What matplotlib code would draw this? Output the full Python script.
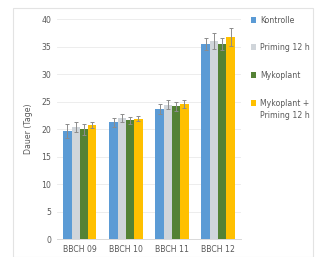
import matplotlib
matplotlib.use("Agg")
import matplotlib.pyplot as plt
import numpy as np
from matplotlib.patches import Rectangle

categories = ["BBCH 09", "BBCH 10", "BBCH 11", "BBCH 12"]
series = ["Kontrolle", "Priming 12 h", "Mykoplant", "Mykoplant +\nPriming 12 h"]
kontrolle = [19.6, 21.2, 23.6, 35.5]
priming = [20.4, 22.0, 24.4, 36.0]
mykoplant = [20.0, 21.6, 24.1, 35.5]
myko_priming = [20.7, 21.9, 24.5, 36.7]
err_kontrolle = [1.3, 0.8, 0.9, 1.1]
err_priming = [0.9, 0.7, 0.8, 1.5]
err_mykoplant = [1.0, 0.6, 0.9, 1.1]
err_myko_priming = [0.5, 0.5, 0.7, 1.6]
y_ticks = [0, 5, 10, 15, 20, 25, 30, 35, 40]

colors = ["#5B9BD5", "#D0D5DA", "#548235", "#FFC000"]
values = [kontrolle, priming, mykoplant, myko_priming]
errors = [err_kontrolle, err_priming, err_mykoplant, err_myko_priming]
txt = "#595959"

fig = plt.figure(figsize=(3.16, 2.57), dpi=100)
fig.patches.append(Rectangle((0.042, 0.0), 0.95, 0.97, transform=fig.transFigure,
                             fill=False, edgecolor="#E3E3E3", linewidth=0.8))
ax = fig.add_axes([0.18, 0.07, 0.583, 0.856])

x = np.arange(len(categories))
w = 0.18
for i, (vals, errs, c, lab) in enumerate(zip(values, errors, colors, series)):
    ax.bar(x + (i - 1.5) * w, vals, width=w, color=c, label=lab, zorder=2,
           yerr=errs, error_kw=dict(ecolor="#8C8C8C", elinewidth=0.7, capsize=1.5, capthick=0.7))

ax.set_xlim(-0.5, 3.5)
ax.set_ylim(0, 40)
ax.set_yticks(y_ticks)
ax.set_xticks(x)
ax.set_xticklabels(categories)
ax.yaxis.grid(True, color="#EAEAEA", linewidth=0.6, zorder=0)
ax.set_axisbelow(True)
for s in ["top", "right", "left"]:
    ax.spines[s].set_visible(False)
ax.spines["bottom"].set_color("#D9D9D9")
ax.spines["bottom"].set_linewidth(0.7)
ax.tick_params(axis="both", length=0, labelsize=5.6, colors=txt, pad=4)
ax.set_ylabel("Dauer (Tage)", fontsize=5.6, color=txt, labelpad=6)

# legend (manual, marker aligned with first text line)
leg_y = [20, 47, 75, 103]  # pixel rows from top
W, H = 316, 257
ms = 5
for lab, c, yp in zip(series, colors, leg_y):
    fig.patches.append(Rectangle(((253 - ms / 2) / W, 1 - (yp + ms / 2) / H), ms / W, ms / H,
                                 transform=fig.transFigure, facecolor=c, edgecolor="none"))
    fig.text(260 / W, 1 - (yp - 4) / H, lab, fontsize=5.6, color=txt, va="top", ha="left",
             linespacing=1.5)

fig.savefig("out.png", dpi=100)
